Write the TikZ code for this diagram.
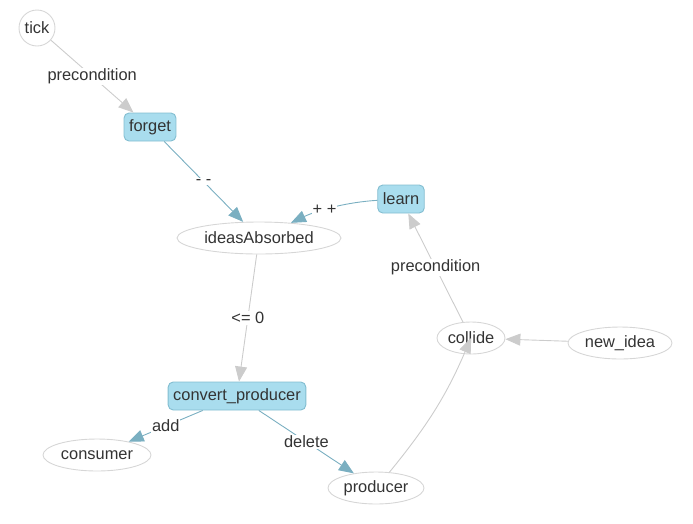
\documentclass[tikz,border=0pt]{standalone}
\usepackage{fontspec}
\setmainfont{Liberation Sans}
\usetikzlibrary {shapes.geometric}
\usetikzlibrary {arrows.meta}

\definecolor{actfill}{HTML}{A9DDEE}
\definecolor{actline}{HTML}{82BDD0}
\definecolor{bluewire}{HTML}{7AAFC1}
\definecolor{greywire}{HTML}{CCCCCC}
\definecolor{ovalline}{HTML}{D6D6D6}
\definecolor{labeltext}{HTML}{333333}

\begin{document}
\begin{tikzpicture}[x=1pt,y=-1pt,line width=0.9pt,font=\fontsize{16.4}{19}\selectfont,text=labeltext,
        action/.style={rectangle,rounded corners=5pt,draw=actline,fill=actfill,minimum height=28pt,inner xsep=5pt},
        oval/.style={ellipse,draw=ovalline,minimum height=32pt,inner sep=0pt},
        lbl/.style={fill=white,text=labeltext,inner sep=1pt},
        greyarrow/.style={arrows = -{Triangle[length=15pt,width=12pt]},greywire},
        bluearrow/.style={arrows = -{Triangle[length=15pt,width=12pt]},bluewire}]

            \useasboundingbox (0,0) rectangle (693,523);
            %\draw [help lines,step=50] (0,0) grid (693,523);

            \path   (37,28)   node (tick) [circle,draw=ovalline,minimum size=36pt,inner sep=0pt] {tick}
                    (150,127) node (forget) [action] {forget}
                    (259,238) node (ideas) [oval,minimum width=164pt] {ideasAbsorbed}
                    (401,199) node (learn) [action] {learn}
                    (471,338) node (collide) [oval,minimum width=68pt] {collide}
                    (620,343) node (newidea) [oval,minimum width=104pt] {new\_idea}
                    (237,396) node (convert) [action] {convert\_producer}
                    (97,455)  node (consumer) [oval,minimum width=108pt] {consumer}
                    (376,488) node (producer) [oval,minimum width=96pt] {producer};

            \draw[greyarrow] (node cs: name =tick) -- node[lbl] {precondition} (node cs:name =forget);
            \draw[bluearrow] (node cs: name =forget) -- node[lbl] {- -} (node cs:name =ideas);
            \draw[bluearrow] (node cs: name =learn) .. controls (348,202) and (318,210) .. node[lbl,pos=0.6] {+ +} (node cs:name =ideas);
            \draw[greyarrow] (node cs: name =ideas) -- node[lbl] {<= 0} (node cs:name =convert);
            \draw[bluearrow] (node cs: name =convert) -- node[lbl] {add} (node cs:name =consumer);
            \draw[bluearrow] (node cs: name =convert) -- node[lbl] {delete} (node cs:name =producer);
            \draw[greyarrow] (node cs: name =producer) to[bend right=8] (node cs:name =collide);
            \draw[greyarrow] (node cs: name =collide) -- node[lbl] {precondition} (node cs:name =learn);
            \draw[greyarrow] (node cs: name =newidea) -- (node cs:name =collide);
        \end{tikzpicture}
\end{document}
